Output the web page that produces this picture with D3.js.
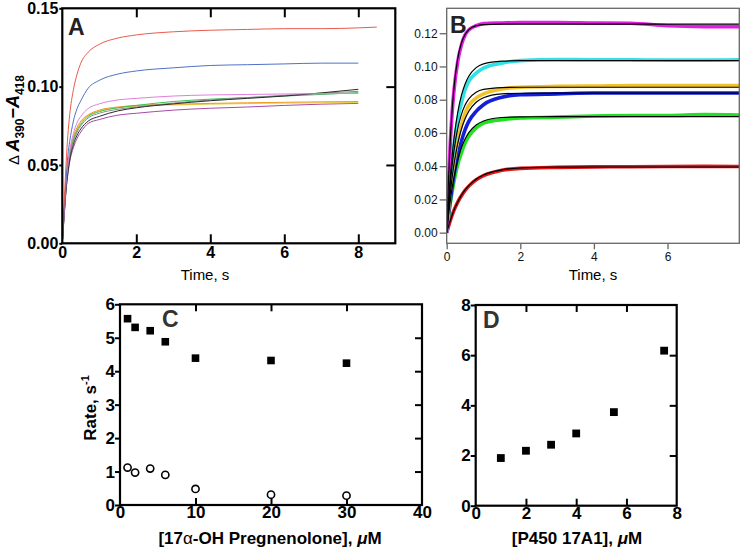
<!DOCTYPE html>
<html><head><meta charset="utf-8">
<script src="https://cdn.jsdelivr.net/npm/d3@7"></script>
<style>
body{margin:0;background:#fff}
svg{display:block}
text{font-family:"Liberation Sans",Arial,Helvetica,sans-serif}
</style></head>
<body><svg id="chart" width="740" height="554"></svg>
<script>
// ---------- Panel A data ----------
const timeA = [0,0.05,0.1,0.15,0.2,0.3,0.4,0.5,0.7,1,1.5,2,3,4,5,6,7,8];
const timeARed = [0,0.05,0.1,0.15,0.2,0.3,0.4,0.5,0.7,1,1.5,2,3,4,5,6,7,8,8.5];
const aRed    = [0,0.025,0.050,0.069,0.082,0.098,0.108,0.115,0.122,0.127,0.131,0.133,0.135,0.136,0.1365,0.137,0.137,0.1375,0.138];
const aBlue   = [0,0.021,0.040,0.056,0.065,0.078,0.086,0.091,0.099,0.104,0.108,0.110,0.112,0.1135,0.114,0.1145,0.115,0.115];
const aPink   = [0,0.020,0.038,0.050,0.059,0.070,0.077,0.081,0.086,0.089,0.0915,0.0925,0.094,0.0947,0.095,0.0953,0.0955,0.0957];
const aBlack  = [0,0.018,0.034,0.045,0.053,0.063,0.069,0.073,0.078,0.081,0.0845,0.0865,0.089,0.091,0.0925,0.094,0.096,0.0983];
const aGray   = [0,0.018,0.035,0.047,0.055,0.065,0.071,0.075,0.080,0.083,0.0855,0.087,0.0895,0.0915,0.093,0.0945,0.0958,0.097];
const aGreen  = [0,0.019,0.036,0.048,0.056,0.066,0.072,0.076,0.081,0.084,0.0865,0.088,0.0905,0.092,0.093,0.094,0.095,0.0962];
const aOrange = [0,0.020,0.038,0.050,0.058,0.068,0.074,0.078,0.082,0.085,0.087,0.088,0.0888,0.0893,0.0897,0.090,0.0903,0.0905];
const aYellow = [0,0.020,0.037,0.049,0.057,0.067,0.073,0.077,0.0815,0.0845,0.0865,0.0875,0.0883,0.0888,0.0892,0.0895,0.0897,0.0898];
const aPurple = [0,0.017,0.033,0.044,0.052,0.061,0.067,0.071,0.0765,0.079,0.0818,0.083,0.085,0.0862,0.087,0.088,0.0888,0.0893];

// ---------- Panel B data ----------
const timeB = [0,0.05,0.1,0.15,0.2,0.3,0.4,0.5,0.6,0.8,1,1.5,2,3,4,5,6,7,7.95];
const bDataMagenta = [0,0.030,0.055,0.073,0.086,0.103,0.113,0.119,0.122,0.1245,0.1258,0.1262,0.1265,0.1265,0.1262,0.126,0.1245,0.124,0.124];
const bDataCyan    = [0,0.017,0.031,0.043,0.053,0.068,0.078,0.086,0.091,0.096,0.099,0.102,0.1035,0.1042,0.104,0.104,0.1038,0.1038,0.104];
const bDataYellow  = [0,0.014,0.025,0.035,0.043,0.056,0.065,0.072,0.0765,0.081,0.0835,0.0865,0.0875,0.088,0.0882,0.0885,0.0885,0.0885,0.0885];
const bDataBlue    = [0,0.011,0.020,0.028,0.035,0.046,0.055,0.062,0.067,0.073,0.077,0.0815,0.083,0.0835,0.084,0.084,0.084,0.084,0.084];
const bDataGreen   = [0,0.010,0.018,0.025,0.031,0.041,0.048,0.054,0.058,0.063,0.066,0.068,0.069,0.0695,0.0702,0.0705,0.0705,0.071,0.0708];
const bDataRed     = [0,0.0039,0.0075,0.0107,0.0136,0.0184,0.0222,0.0254,0.0280,0.0318,0.0343,0.0375,0.0387,0.0393,0.0396,0.0397,0.0398,0.0399,0.0398];
const bFitMagenta = [0,0.0325,0.0566,0.0744,0.0877,0.1048,0.1141,0.1192,0.1221,0.1245,0.1252,0.1255,0.1255,0.1255,0.1255,0.1255,0.1255,0.1255,0.1255];
const bFitCyan    = [0,0.0188,0.0341,0.0467,0.0570,0.0723,0.0826,0.0895,0.0941,0.0993,0.1016,0.1032,0.1035,0.1035,0.1035,0.1035,0.1035,0.1035,0.1035];
const bFitYellow  = [0,0.0166,0.0300,0.0409,0.0497,0.0627,0.0712,0.0768,0.0805,0.0845,0.0862,0.0873,0.0875,0.0875,0.0875,0.0875,0.0875,0.0875,0.0875];
const bFitBlue    = [0,0.0131,0.0242,0.0336,0.0414,0.0537,0.0624,0.0686,0.0731,0.0785,0.0812,0.0835,0.0839,0.084,0.084,0.084,0.084,0.084,0.084];
const bFitGreen   = [0,0.0106,0.0196,0.0272,0.0337,0.0438,0.0512,0.0564,0.0602,0.0648,0.0672,0.0693,0.0697,0.0698,0.0698,0.0698,0.0698,0.0698,0.0698];
const bFitRed     = [0,0.0039,0.0075,0.0107,0.0136,0.0184,0.0224,0.0257,0.0283,0.0322,0.0347,0.0378,0.0389,0.0394,0.0395,0.0395,0.0395,0.0395,0.0395];

// ---------- Panel C data ----------
const concC = [1,2,4,6,10,20,30];
const rateFast = [5.57,5.31,5.21,4.88,4.39,4.32,4.24];
const rateSlow = [1.12,0.97,1.09,0.90,0.48,0.31,0.28];

// ---------- Panel D data ----------
const concD = [1,2,3,4,5.5,7.5];
const rateD = [1.9,2.19,2.43,2.88,3.73,6.18];

// tick labels
const ticksAx = [0,2,4,6,8], ticksAy = [0,0.05,0.10,0.15];
const ticksBx = [0,2,4,6], ticksBy = [0,0.02,0.04,0.06,0.08,0.10,0.12];
const ticksCx = [0,10,20,30,40], ticksCy = [0,1,2,3,4,5,6];
const ticksDx = [0,2,4,6,8], ticksDy = [0,2,4,6,8];

const svg = d3.select("#chart");
const FONT = '"Liberation Sans",Arial,Helvetica,sans-serif';

function styleAxis(g, opts) {
  g.select(".domain").remove();
  g.selectAll("line").attr("stroke", opts.color).attr("stroke-width", opts.tw);
  g.selectAll("text").attr("font-family", FONT).attr("font-size", opts.fs)
    .attr("font-weight", opts.fw).attr("fill", opts.tc || "#000");
}

// boxed frame with ticks (bold style: A, C, D)
function boldFrame(x, y, xt, yt, fmtY, fs, opt) {
  const [x0, x1] = x.range(), [y0, y1] = y.range();
  const st = {color: "#000", tw: 2, fs: fs, fw: "bold"};
  const inner = xt.filter(v => v !== x.domain()[0] && v !== x.domain()[1]);
  const innerY = yt.filter(v => v !== y.domain()[0] && v !== y.domain()[1]);
  const gb = svg.append("g").attr("transform", `translate(0,${y0})`)
    .call(d3.axisBottom(x).tickValues(xt).tickSize(0).tickPadding(opt.xpad).tickFormat(d3.format("d")));
  styleAxis(gb, st);
  svg.append("g").attr("transform", `translate(0,${y0})`)
    .call(d3.axisBottom(x).tickValues(inner).tickSize(-opt.tin).tickFormat(""))
    .call(g => styleAxis(g, st));
  svg.append("g").attr("transform", `translate(0,${y1})`)
    .call(d3.axisTop(x).tickValues(inner).tickSize(-opt.tin).tickFormat(""))
    .call(g => styleAxis(g, st));
  const gl = svg.append("g").attr("transform", `translate(${x0},0)`)
    .call(d3.axisLeft(y).tickValues(yt).tickSize(opt.tout).tickPadding(opt.ypad).tickFormat(fmtY));
  styleAxis(gl, st);
  svg.append("g").attr("transform", `translate(${x1},0)`)
    .call(d3.axisRight(y).tickValues(innerY).tickSize(-opt.tin).tickFormat(""))
    .call(g => styleAxis(g, st));
  svg.append("rect").attr("x", x0).attr("y", y1).attr("width", x1 - x0).attr("height", y0 - y1)
    .attr("fill", "none").attr("stroke", "#000").attr("stroke-width", 2.2);
}

// ================= Panel A =================
const xA = d3.scaleLinear().domain([0, 9]).range([62.3, 395.3]);
const yA = d3.scaleLinear().domain([0, 0.15]).range([243.3, 8.3]);
const lineA = (ts, vs) => d3.line().x((d, i) => xA(ts[i])).y(d => yA(d)).curve(d3.curveMonotoneX)(vs);
const seriesA = [
  {t: timeA, v: aPurple, c: "#a64aa8"},
  {t: timeA, v: aYellow, c: "#e6cf3c"},
  {t: timeA, v: aOrange, c: "#f19a1e"},
  {t: timeA, v: aGreen, c: "#3cbf5a"},
  {t: timeA, v: aGray, c: "#8a8a8a"},
  {t: timeA, v: aBlack, c: "#2a2a2a"},
  {t: timeA, v: aPink, c: "#e07fdc"},
  {t: timeA, v: aBlue, c: "#4f72c4"},
  {t: timeARed, v: aRed, c: "#ec5a4c"}
];
svg.append("g").selectAll("path").data(seriesA).join("path")
  .attr("d", s => lineA(s.t, s.v)).attr("fill", "none")
  .attr("stroke", s => s.c).attr("stroke-width", 1);
boldFrame(xA, yA, ticksAx, ticksAy, d3.format(".2f"), 16, {tin: 9, tout: 3, xpad: 3, ypad: 1});
svg.append("text").attr("x", 68).attr("y", 35).attr("font-size", 23).attr("font-weight", "bold").attr("fill", "#222").text("A");
svg.append("text").attr("x", 205).attr("y", 280).attr("text-anchor", "middle").attr("font-size", 15).text("Time, s");
{
  const t = svg.append("text").attr("transform", "translate(19,120) rotate(-90)")
    .attr("text-anchor", "middle").attr("font-size", 18).attr("font-weight", "bold");
  t.append("tspan").attr("font-weight", "normal").attr("font-size", 15).text("\u0394 ");
  t.append("tspan").attr("font-style", "italic").text("A");
  t.append("tspan").attr("font-size", 12).attr("dy", 5).text("390");
  t.append("tspan").attr("dy", -5).text("\u2212");
  t.append("tspan").attr("font-style", "italic").text("A");
  t.append("tspan").attr("font-size", 12).attr("dy", 5).text("418");
}

// ================= Panel B =================
const xB = d3.scaleLinear().domain([0, 7.95]).range([446.7, 739.3]);
const yB = d3.scaleLinear().domain([-0.0064, 0.135]).range([243.3, 8.3]);
svg.append("defs").append("clipPath").attr("id", "clipB").append("rect")
  .attr("x", 446.7).attr("y", 8.3).attr("width", 292.6).attr("height", 235);
const lineB = vs => d3.line().x((d, i) => xB(timeB[i])).y(d => yB(d)).curve(d3.curveMonotoneX)(vs);
const dataB = [
  {v: bDataRed, c: "#e0161a"}, {v: bDataGreen, c: "#22e022"}, {v: bDataBlue, c: "#1420d8"},
  {v: bDataYellow, c: "#f2c22a"}, {v: bDataCyan, c: "#30e2e6"}, {v: bDataMagenta, c: "#e020de"}
];
const fitsB = [bFitRed, bFitGreen, bFitBlue, bFitYellow, bFitCyan, bFitMagenta];
const gB = svg.append("g").attr("clip-path", "url(#clipB)");
gB.selectAll("path.data").data(dataB).join("path").attr("class", "data")
  .attr("d", s => lineB(s.v)).attr("fill", "none").attr("stroke", s => s.c)
  .attr("stroke-width", 3.6).attr("stroke-linejoin", "round");
gB.selectAll("path.fit").data(fitsB).join("path").attr("class", "fit")
  .attr("d", v => lineB(v)).attr("fill", "none").attr("stroke", "#000").attr("stroke-width", 1.2);
{
  const st = {color: "#666", tw: 1.3, fs: 12, fw: "normal", tc: "#111"};
  svg.append("g").attr("transform", "translate(0,243.3)")
    .call(d3.axisBottom(xB).tickValues(ticksBx).tickSize(6).tickPadding(3).tickFormat(d3.format("d")))
    .call(g => styleAxis(g, st));
  svg.append("g").attr("transform", "translate(446.7,0)")
    .call(d3.axisLeft(yB).tickValues(ticksBy).tickSize(7).tickPadding(2).tickFormat(d3.format(".2f")))
    .call(g => styleAxis(g, st));
  svg.append("rect").attr("x", 446.7).attr("y", 8.3).attr("width", 292.6).attr("height", 235)
    .attr("fill", "none").attr("stroke", "#666").attr("stroke-width", 1.3);
}
svg.append("text").attr("x", 450).attr("y", 33).attr("font-size", 23).attr("font-weight", "bold").attr("fill", "#222").text("B");
svg.append("text").attr("x", 593).attr("y", 280).attr("text-anchor", "middle").attr("font-size", 15).text("Time, s");

// ================= Panel C =================
const xC = d3.scaleLinear().domain([0, 40]).range([120, 422]);
const yC = d3.scaleLinear().domain([0, 6]).range([505, 304.3]);
boldFrame(xC, yC, ticksCx, ticksCy, d3.format("d"), 17, {tin: 7, tout: 5, xpad: 1, ypad: 0});
svg.append("g").selectAll("rect").data(concC).join("rect")
  .attr("x", (d) => xC(d) - 3.8).attr("y", (d, i) => yC(rateFast[i]) - 3.8)
  .attr("width", 7.6).attr("height", 7.6).attr("fill", "#000");
svg.append("g").selectAll("circle").data(concC).join("circle")
  .attr("cx", d => xC(d)).attr("cy", (d, i) => yC(rateSlow[i])).attr("r", 3.6)
  .attr("fill", "#fff").attr("stroke", "#000").attr("stroke-width", 1.6);
svg.append("text").attr("x", 162).attr("y", 327).attr("font-size", 23).attr("font-weight", "bold").attr("fill", "#333").text("C");
{
  const t = svg.append("text").attr("transform", "translate(96,408) rotate(-90)")
    .attr("text-anchor", "middle").attr("font-size", 17).attr("font-weight", "bold");
  t.append("tspan").text("Rate, s");
  t.append("tspan").attr("font-size", 11).attr("dy", -7).text("-1");
}
{
  const t = svg.append("text").attr("x", 270).attr("y", 544).attr("text-anchor", "middle")
    .attr("font-size", 17).attr("font-weight", "bold");
  t.append("tspan").text("[17");
  t.append("tspan").attr("font-weight", "normal").text("\u03b1");
  t.append("tspan").text("-OH Pregnenolone], ");
  t.append("tspan").attr("font-style", "italic").text("\u03bc");
  t.append("tspan").text("M");
}

// ================= Panel D =================
const xD = d3.scaleLinear().domain([0, 8]).range([475.7, 676.7]);
const yD = d3.scaleLinear().domain([0, 8]).range([505.7, 305]);
boldFrame(xD, yD, ticksDx, ticksDy, d3.format("d"), 17, {tin: 7, tout: 5, xpad: 1, ypad: 0});
svg.append("g").selectAll("rect").data(concD).join("rect")
  .attr("x", d => xD(d) - 3.9).attr("y", (d, i) => yD(rateD[i]) - 3.9)
  .attr("width", 7.8).attr("height", 7.8).attr("fill", "#000");
svg.append("text").attr("x", 483).attr("y", 328).attr("font-size", 23).attr("font-weight", "bold").attr("fill", "#333").text("D");
{
  const t = svg.append("text").attr("x", 577).attr("y", 544).attr("text-anchor", "middle")
    .attr("font-size", 17).attr("font-weight", "bold");
  t.append("tspan").text("[P450 17A1], ");
  t.append("tspan").attr("font-style", "italic").text("\u03bc");
  t.append("tspan").text("M");
}
</script></body></html>
